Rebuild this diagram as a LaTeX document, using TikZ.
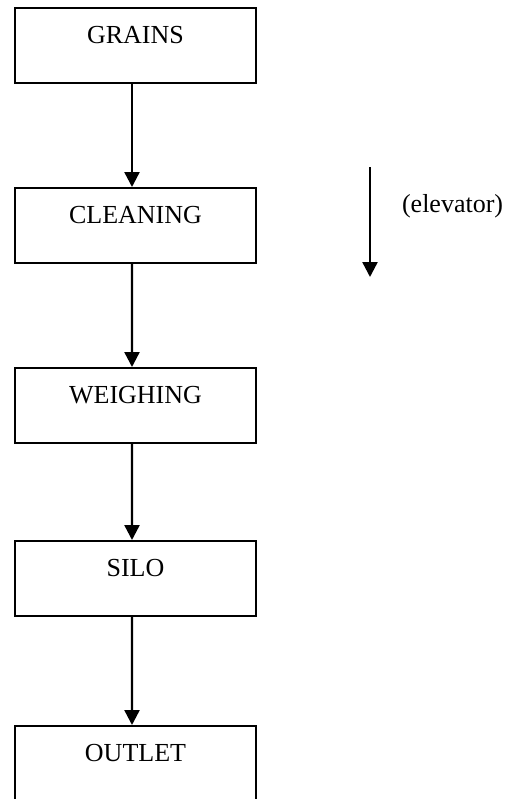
\documentclass[tikz,border=0pt]{standalone}
\usepackage{fontspec}
\setmainfont{Liberation Serif}
\usepackage{tikz}
\usetikzlibrary{trees,arrows.meta}

\tikzset{
  stepbox/.style={draw, line width=1pt, minimum width=120.5pt, inner xsep=0pt, inner ysep=0pt,
    text height=17.8pt, text depth=19.7pt, font=\fontsize{13pt}{15pt}\selectfont},
  flow/.style={line width=1.2pt, -{Triangle[length=7.5pt,width=7.5pt]}}
}

\begin{document}
\begin{tikzpicture}
    [level distance=90pt,
     level 3/.style={level distance=86.5pt},
     level 4/.style={level distance=92.5pt},
     edge from parent/.style={draw, flow},
     edge from parent path={([xshift=-1.75pt]\tikzparentnode.south) -- ([xshift=-1.75pt]\tikzchildnode.north)}]
    \useasboundingbox (0,0) rectangle (255pt,-399.5pt);
    \node[stepbox] (grains) at (67.75pt,-22.75pt) {GRAINS}
      child {node[stepbox] (cleaning) {CLEANING}
        child {node[stepbox] (weighing) {WEIGHING}
          child {node[stepbox] (silo) {SILO}
            child {node[stepbox] (outlet) {OUTLET}}
          }
        }
      };
    % elevator direction
    \coordinate (elevtop) at (185pt,-83.5pt);
    \coordinate (elevbot) at (185pt,-138.5pt);
    \draw[flow] (elevtop) -- (elevbot);
    \node[anchor=base west, font=\fontsize{13pt}{15pt}\selectfont] (elevator) at (197.5pt,-106pt) {(elevator)};
  \end{tikzpicture}
\end{document}
